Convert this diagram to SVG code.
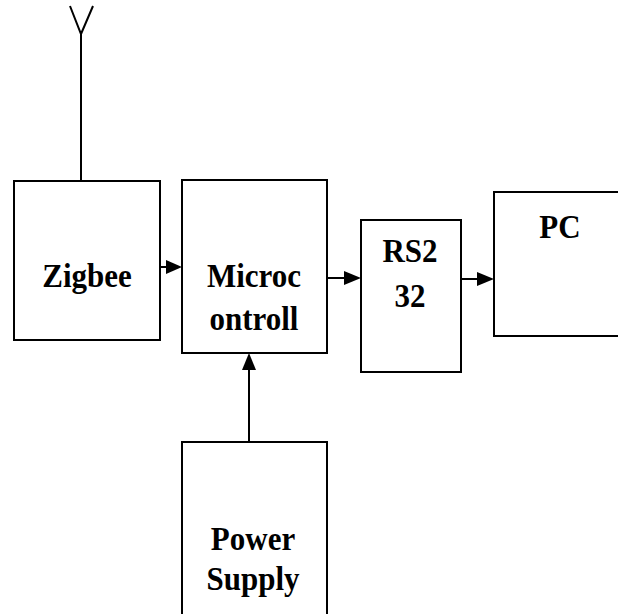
<svg xmlns="http://www.w3.org/2000/svg" width="618" height="614" viewBox="0 0 618 614">
<defs>
<style>
.box{fill:#fff;stroke:#000;stroke-width:2}
.ln{stroke:#000;stroke-width:2;fill:none}
.t{font-family:"Liberation Serif","Times New Roman",serif;font-weight:bold;font-size:31px;fill:#000;text-anchor:middle}
</style>
</defs>
<rect width="618" height="614" fill="#fff"/>
<g id="antenna">
<path class="ln" d="M70,6 L81,34 L93,6 M81,34 L81,181"/>
</g>
<g id="zigbee">
<rect class="box" x="14" y="181" width="146" height="159"/>
<text class="t" transform="translate(87,287) scale(1,1.1)">Zigbee</text>
</g>
<g id="microcontroller">
<rect class="box" x="182" y="180" width="145" height="173"/>
<text class="t" transform="translate(254,287) scale(1,1.1)">Microc</text>
<text class="t" transform="translate(254,330) scale(1,1.1)">ontroll</text>
</g>
<g id="rs232">
<rect class="box" x="361" y="220" width="100" height="152"/>
<text class="t" transform="translate(410,262) scale(1,1.1)">RS2</text>
<text class="t" transform="translate(410,307) scale(1,1.1)">32</text>
</g>
<g id="pc">
<rect class="box" x="494" y="192" width="130" height="144"/>
<text class="t" transform="translate(560,238) scale(1,1.1)">PC</text>
</g>
<g id="power">
<rect class="box" x="182" y="442" width="145" height="180"/>
<text class="t" transform="translate(253,550) scale(1,1.1)">Power</text>
<text class="t" transform="translate(253,590) scale(1,1.1)">Supply</text>
</g>
<g id="connectors">
<path class="ln" d="M160,267 L166,267"/>
<path d="M166,260 L182,267 L166,274 Z" fill="#000"/>
<path class="ln" d="M327,278 L344,278"/>
<path d="M344,271 L361,278 L344,285 Z" fill="#000"/>
<path class="ln" d="M461,279 L477,279"/>
<path d="M477,272 L494,279 L477,286 Z" fill="#000"/>
<path class="ln" d="M249,442 L249,370"/>
<path d="M242,370 L249,353 L256,370 Z" fill="#000"/>
</g>
</svg>
